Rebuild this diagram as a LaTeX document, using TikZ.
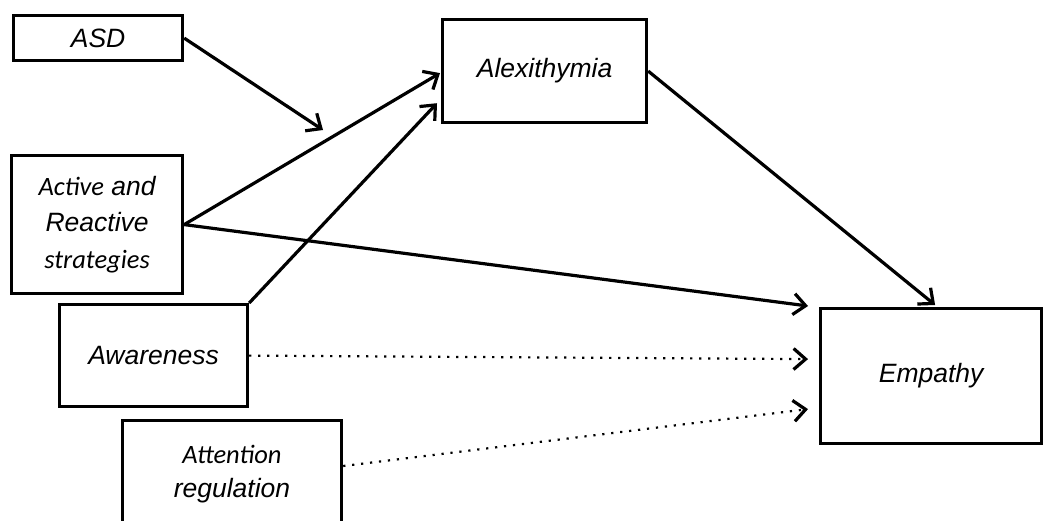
\documentclass[tikz,border=0pt]{standalone}
\usepackage{fontspec}
\setmainfont{Liberation Sans}
\newfontfamily\calfont{Carlito}
\usetikzlibrary{arrows.meta,calc}
\begin{document}
\begin{tikzpicture}[x=1pt,y=-1pt,
  box/.style={draw,line width=3.2pt,rectangle,anchor=north west,inner sep=0pt,align=center,
    font=\fontsize{26.5}{36.5}\selectfont\itshape},
  boxtext/.style={inner sep=0pt,align=center,font=\fontsize{26.5}{34}\selectfont\itshape},
  solidarrow/.style={line width=3.2pt,-{Straight Barb[length=12pt,width=21pt,line width=3.2pt]}},
  dotarrow/.style={line width=2.2pt,dash pattern=on 2.2pt off 6.8pt,-{Straight Barb[length=12pt,width=21pt,line width=3.2pt]}}]
\useasboundingbox (0,0) rectangle (1043,520);
\node[box,minimum width=169pt,minimum height=45pt] (asd) at (12,14) {ASD};
\node[box,minimum width=171pt,minimum height=138pt] (act) at (10,154) {{\calfont Active} and\\Reactive\\{\calfont strategies}};
\node[box,minimum width=188pt,minimum height=102pt] (aw) at (58,303) {Awareness};
\node[box,minimum width=219pt,minimum height=120pt] (att) at (121,419) {};
\node[boxtext] (atttext) at (232,474) {{\calfont Attention}\\regulation};
\node[box,minimum width=204pt,minimum height=103pt] (alex) at (441,18) {Alexithymia};
\node[box,minimum width=221pt,minimum height=135pt] (emp) at (819,307) {Empathy};
\coordinate (mod) at (323,130);
\draw[solidarrow] (asd.east) -- (mod);
\draw[solidarrow] (act.east) -- ($(alex.west)+(-1,2)$);
\draw[solidarrow] (act.east) -- ($(emp.north west)+(-11,-1)$);
\draw[solidarrow] (aw.north east) -- ($(alex.south west)+(-4,-21)$);
\draw[solidarrow] (alex.east) -- ($(emp.north)+(4,-2)$);
\draw[dotarrow] (aw.east) -- ($(emp.west)+(-11,-17)$);
\draw[dotarrow] ($(att.north east)+(0,47)$) -- ($(emp.west)+(-11,33)$);
\end{tikzpicture}
\end{document}
